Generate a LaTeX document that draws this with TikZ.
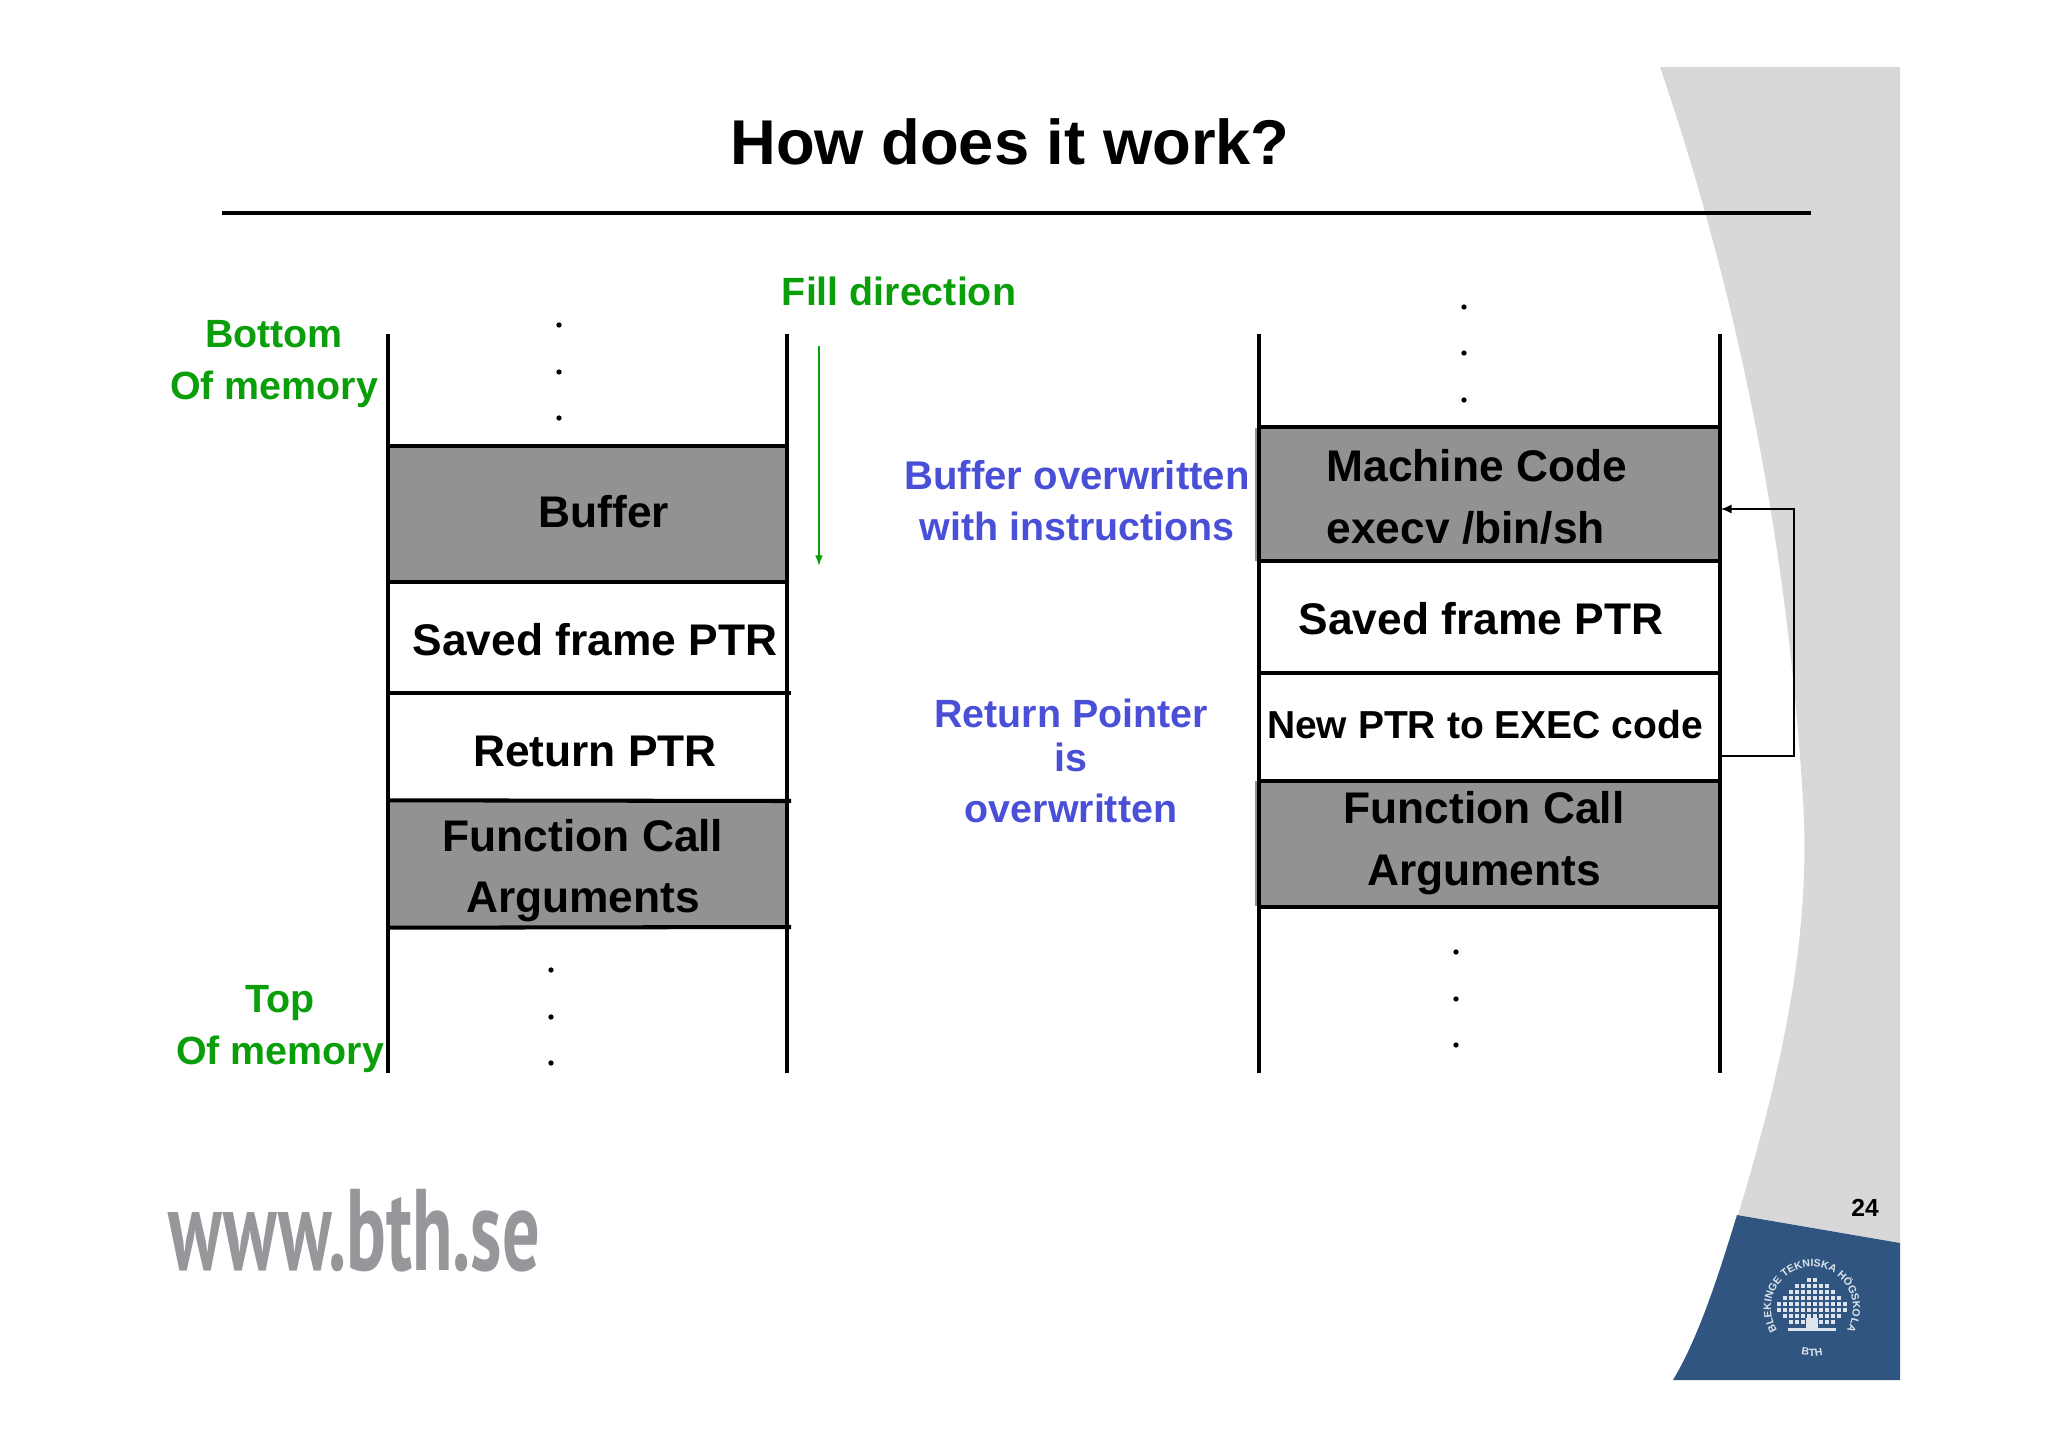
\documentclass[tikz,border=0pt]{standalone}
\usepackage{fontspec}
\usepackage{xcolor}
\setmainfont{Liberation Sans}
\newfontfamily\bthfont{PT Sans}
\usetikzlibrary{arrows.meta,decorations.text}
\definecolor{panelgray}{HTML}{D8D8DA}
\definecolor{cellgray}{HTML}{929194}
\definecolor{bthblue}{HTML}{2F5580}
\definecolor{sealwhite}{HTML}{DDE4EC}
\definecolor{notegreen}{HTML}{0A9F0A}
\definecolor{noteblue}{HTML}{4A4FD8}
\definecolor{webgray}{HTML}{97979B}
\tikzset{
    rail/.style = {line width=1.15pt},
    stacktext/.style = {font=\fontsize{12.6}{15}\selectfont\bfseries, text=black, inner sep=0pt},
    greennote/.style = {font=\fontsize{11.2}{13}\selectfont\bfseries, text=notegreen, inner sep=0pt},
    bluenote/.style = {font=\fontsize{11.2}{13}\selectfont\bfseries, text=noteblue, inner sep=0pt},
    graycell/.style = {fill=cellgray, inner sep=0pt},
    dotmark/.style = {circle, fill=black, inner sep=0pt, minimum size=1.5pt},
}
\begin{document}
\begin{tikzpicture}[x=0.01cm, y=-0.01cm, >=latex]
    \useasboundingbox (0,0) rectangle (2048,1448);
    \fill[white] (0,0) rectangle (2048,1448);
    \fill[panelgray] (1660,67) -- (1900,67) -- (1900,1243) -- (1738,1215)
        .. controls (1785,1060) and (1811,930) .. (1803,800)
        .. controls (1792,620) and (1760,360) .. (1660,67) -- cycle;
    \fill[bthblue] (1737,1215) -- (1900,1243) -- (1900,1380) -- (1673,1380)
        .. controls (1700,1335) and (1720,1270) .. (1737,1215) -- cycle;

    \coordinate (seal) at (1812,1308);
    \foreach \rowy/\rowcount in {1280/2, 1286/6, 1292/8, 1298/10, 1304/12, 1310/12, 1316/10, 1322/8} {
        \foreach \k in {1,...,\rowcount} {
            \fill[sealwhite] ({1812+(\k-0.5-\rowcount/2)*6-2.3},\rowy-2.3) rectangle ++(4.6,4.6);
        }
    }
    \fill[sealwhite] (1806,1318) rectangle (1818,1329);
    \fill[sealwhite] (1788,1328) rectangle (1836,1331);
    \path[decorate, decoration={text along path, text align=center,
        text={|\fontsize{3}{4}\selectfont\bfseries\color{sealwhite}|BLEKINGE TEKNISKA HÖGSKOLA}}]
        (seal) ++(235:0.41cm) arc[start angle=235, end angle=-55, radius=0.41cm];
    \path[decorate, decoration={text along path, text align=center,
        text={|\fontsize{3}{4}\selectfont\bfseries\color{sealwhite}|BTH}}]
        (seal) ++(245:0.48cm) arc[start angle=245, end angle=295, radius=0.48cm];

    \node[font=\fontsize{18}{22}\selectfont\bfseries, inner sep=0pt] (title) at (1010,142) {How does it work?};
    \coordinate (ruleL) at (222,213);
    \coordinate (ruleR) at (1811,213);
    \draw[line width=1.15pt] (ruleL) -- (ruleR);
    \node[font=\fontsize{7}{8}\selectfont\bfseries, inner sep=0pt] (pageno) at (1865,1208) {24};
    \node[font=\bthfont\bfseries\fontsize{33}{36}\selectfont, text=webgray, anchor=base, inner sep=0pt] (web) at (354,1270) {\scalebox{0.64}[1]{www.bth.se}};

    \node[graycell, minimum width=399*0.01cm, minimum height=134*0.01cm] (bufL) at (587.5,514) {};
    \node[graycell, minimum width=399*0.01cm, minimum height=126*0.01cm] (argsL) at (587.5,864) {};
    \node[stacktext] (bufT) at (604,512) {Buffer};
    \node[stacktext] (savedL) at (595,640) {Saved frame PTR};
    \node[stacktext] (retL) at (595,751) {Return PTR};
    \node[stacktext] (argsLa) at (583,836) {Function Call};
    \node[stacktext] (argsLb) at (583,902) {Arguments};

    \coordinate (lt) at (388,334);
    \coordinate (lb) at (388,1073);
    \coordinate (rt) at (787,334);
    \coordinate (rb) at (787,1073);
    \draw[rail] (lt) -- (lb);
    \draw[rail] (rt) -- (rb);
    \draw[rail] (bufL.north west) -- (bufL.north east);
    \draw[rail] (bufL.south west) -- (bufL.south east);
    \coordinate (savedSW) at (388,693);
    \coordinate (savedSE) at (791,693);
    \draw[rail] (savedSW) -- (savedSE);
    \coordinate (argsNE) at (791,801);
    \draw[rail] (argsL.north west) -- (argsNE);
    \coordinate (argsSE) at (791,927);
    \draw[rail] (argsL.south west) -- (argsSE);

    \foreach \y [count=\i] in {325,372,418} {
        \node[dotmark] (dotLt\i) at (559,\y) {};
    }
    \foreach \y [count=\i] in {970,1017,1063} {
        \node[dotmark] (dotLb\i) at (551,\y) {};
    }
    \foreach \y [count=\i] in {307,353,400} {
        \node[dotmark] (dotRt\i) at (1464,\y) {};
    }
    \foreach \y [count=\i] in {952,999,1045} {
        \node[dotmark] (dotRb\i) at (1456,\y) {};
    }

    \node[greennote] (bottom) at (274,334) {Bottom};
    \node[greennote] (ofmemA) at (274,389) {Of memory};
    \node[greennote] (top) at (280,1003) {Top};
    \node[greennote] (ofmemB) at (280,1054) {Of memory};
    \node[greennote] (fill) at (899,291) {Fill direction};
    \coordinate (fillS) at (819,346);
    \coordinate (fillE) at (819,566);
    \draw[notegreen, line width=0.45pt, arrows = {-Latex[length=3pt,width=2.2pt]}] (fillS) -- (fillE);

    \node[bluenote, font=\fontsize{11.4}{13}\selectfont\bfseries] (overA) at (1077,475) {Buffer overwritten};
    \node[bluenote] (overB) at (1077,526) {with instructions};
    \node[bluenote] (retA) at (1071,713) {Return Pointer};
    \node[bluenote] (retB) at (1071,757) {is};
    \node[bluenote] (retC) at (1071,808) {overwritten};

    \node[graycell, minimum width=466*0.01cm, minimum height=133*0.01cm] (mach) at (1488,494) {};
    \node[graycell, minimum width=466*0.01cm, minimum height=125*0.01cm] (argsR) at (1488,843.5) {};
    \node[stacktext, anchor=west] (machA) at (1326,466) {Machine Code};
    \node[stacktext, anchor=west] (machB) at (1326,528) {execv /bin/sh};
    \node[stacktext] (savedR) at (1481,619) {Saved frame PTR};
    \node[stacktext, font=\fontsize{11.1}{14}\selectfont\bfseries] (newptr) at (1485,725) {New PTR to EXEC code};
    \node[stacktext] (argsRa) at (1484,808) {Function Call};
    \node[stacktext] (argsRb) at (1484,875) {Arguments};

    \coordinate (rlt) at (1259,334);
    \coordinate (rlb) at (1259,1073);
    \coordinate (rrt) at (1720,334);
    \coordinate (rrb) at (1720,1073);
    \draw[rail] (rlt) -- (rlb);
    \draw[rail] (rrt) -- (rrb);
    \coordinate (machNW) at (1259,427);
    \coordinate (machNE) at (1720,427);
    \draw[rail] (machNW) -- (machNE);
    \coordinate (machSW) at (1259,561);
    \coordinate (machSE) at (1720,561);
    \draw[rail] (machSW) -- (machSE);
    \coordinate (newNW) at (1259,673);
    \coordinate (newNE) at (1720,673);
    \draw[rail] (newNW) -- (newNE);
    \coordinate (newSW) at (1259,781);
    \coordinate (newSE) at (1720,781);
    \draw[rail] (newSW) -- (newSE);
    \coordinate (argsSW) at (1259,907);
    \coordinate (argsSEr) at (1720,907);
    \draw[rail] (argsSW) -- (argsSEr);

    \coordinate (ptrOut) at (1721,756);
    \coordinate (bendA) at (1794,756);
    \coordinate (bendB) at (1794,509);
    \coordinate (ptrIn) at (1721,509);
    \draw[line width=0.45pt, arrows = {-Latex[length=3pt,width=2.6pt]}] (ptrOut) -- (bendA) -- (bendB) -- (ptrIn);
\end{tikzpicture}
\end{document}
